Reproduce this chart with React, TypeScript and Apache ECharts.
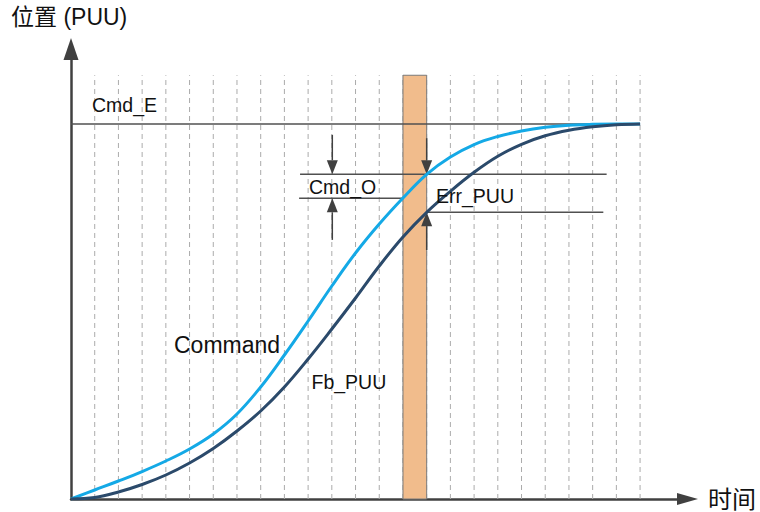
import React, { useEffect, useRef } from "react";
import * as echarts from "echarts";

// ---- data (x in grid units, y in percent of Cmd_E) ----
const timeSteps: number[] = [0, 1, 2, 3, 4, 5, 6, 7, 8, 9, 10, 11, 12, 13, 14, 15, 16, 17, 18, 19, 20, 21, 22, 23, 24];
const commandValues: number[] = [
  0, 2.4, 4.8, 7.33, 10.13, 13.33, 17.33, 22.67, 29.87, 38.4, 47.47, 56.8, 65.6,
  73.33, 80.27, 86.59, 91.2, 94.53, 96.67, 98.13, 99.12, 99.68, 99.92, 100, 100,
];
const feedbackValues: number[] = [
  0, 0.4, 1.87, 3.87, 6.4, 9.6, 13.47, 18.13, 23.47, 29.87, 37.33, 45.33, 53.6,
  62.13, 69.87, 76.45, 82.05, 87.12, 91.39, 94.59, 96.85, 98.32, 99.25, 99.79, 100,
];
const gridXs: number[] = [1, 2, 3, 4, 5, 6, 7, 8, 9, 10, 11, 12, 13, 14, 15, 16, 17, 18, 19, 20, 21, 22, 23, 24];
const gridTop = 113;
const band: number[][] = [[14, 15, 0, 113]];
// [xStart, xEnd, y]
const refLines: number[][] = [
  [0, 24, 100],
  [9.66, 22.59, 86.6],
  [9.62, 14.04, 80.2],
  [15.0, 22.45, 76.5],
];
// [x, yFrom, yTip]
const arrows: number[][] = [
  [11.02, 97.1, 86.6],
  [11.02, 69.1, 80.2],
  [15.0, 96.2, 86.6],
  [15.0, 66.4, 76.5],
];
const xMax = 26;
const yMax = 120;

const FONT = '"Liberation Sans", Arial, "Noto Sans CJK SC", sans-serif';
const AXIS = "#404040";

export default function App() {
  const ref = useRef<HTMLDivElement>(null);
  useEffect(() => {
    if (!ref.current) return;
    const chart = echarts.init(ref.current, undefined, { renderer: "svg" });
    const txt = (text: string, x: number, y: number, size: number) => ({
      type: "text",
      x,
      y,
      style: { text, fill: "#111", font: `${size}px ${FONT}`, verticalAlign: "middle", align: "left" },
      z: 100,
    });
    chart.setOption({
      animation: false,
      grid: { left: 71, right: 72.5, top: 49, bottom: 13 },
      xAxis: {
        type: "value",
        min: 0,
        max: xMax,
        axisLine: { show: true, symbol: ["none", "triangle"], symbolSize: [12, 21], lineStyle: { color: AXIS, width: 2.5 } },
        axisTick: { show: false },
        axisLabel: { show: false },
        splitLine: { show: false },
      },
      yAxis: {
        type: "value",
        min: 0,
        max: yMax,
        axisLine: { show: true, symbol: ["none", "triangle"], symbolSize: [15, 22], lineStyle: { color: AXIS, width: 2.5 } },
        axisTick: { show: false },
        axisLabel: { show: false },
        splitLine: { show: false },
      },
      series: [
        {
          type: "custom",
          name: "grid",
          data: gridXs.map((x) => [x, 0]),
          renderItem: (_p: any, api: any) => {
            const x = api.value(0);
            const a = api.coord([x, 0]);
            const b = api.coord([x, gridTop]);
            return {
              type: "line",
              shape: { x1: a[0], y1: a[1], x2: b[0], y2: b[1] },
              style: { stroke: "#ababab", lineWidth: 1, lineDash: [5, 4] },
            };
          },
        },
        {
          type: "custom",
          name: "band",
          data: band,
          renderItem: (_p: any, api: any) => {
            const a = api.coord([api.value(0), api.value(3)]);
            const b = api.coord([api.value(1), api.value(2)]);
            return {
              type: "rect",
              shape: { x: a[0], y: a[1], width: b[0] - a[0], height: b[1] - a[1] },
              style: { fill: "#F1BC8C", stroke: "#7a7a7a", lineWidth: 1 },
            };
          },
        },
        {
          type: "custom",
          name: "refs",
          data: refLines,
          renderItem: (_p: any, api: any) => {
            const a = api.coord([api.value(0), api.value(2)]);
            const b = api.coord([api.value(1), api.value(2)]);
            return {
              type: "line",
              shape: { x1: a[0], y1: a[1], x2: b[0], y2: b[1] },
              style: { stroke: "#505050", lineWidth: 1.5 },
            };
          },
        },
        {
          type: "line",
          name: "Command",
          data: timeSteps.map((t, i) => [t, commandValues[i]]),
          smooth: 0.4,
          showSymbol: false,
          lineStyle: { color: "#14A9E6", width: 3 },
        },
        {
          type: "line",
          name: "Fb_PUU",
          data: timeSteps.map((t, i) => [t, feedbackValues[i]]),
          smooth: 0.4,
          showSymbol: false,
          lineStyle: { color: "#2B4A6B", width: 3 },
        },
        {
          type: "custom",
          name: "arrows",
          data: arrows,
          renderItem: (_p: any, api: any) => {
            const from = api.coord([api.value(0), api.value(1)]);
            const tip = api.coord([api.value(0), api.value(2)]);
            const dir = tip[1] > from[1] ? 1 : -1;
            const head = 14;
            const hw = 5.5;
            const baseY = tip[1] - dir * head;
            return {
              type: "group",
              children: [
                {
                  type: "line",
                  shape: { x1: from[0], y1: from[1], x2: tip[0], y2: baseY },
                  style: { stroke: AXIS, lineWidth: 1.5 },
                },
                {
                  type: "polygon",
                  shape: { points: [[tip[0], tip[1]], [tip[0] - hw, baseY], [tip[0] + hw, baseY]] },
                  style: { fill: AXIS },
                },
              ],
            };
          },
        },
      ],
      graphic: [
        txt("位置 (PUU)", 11, 17, 23),
        txt("时间", 708, 499, 24),
        txt("Cmd_E", 92, 105, 19.5),
        txt("Cmd_O", 309, 186.5, 19.5),
        txt("Err_PUU", 436, 196, 19.5),
        txt("Fb_PUU", 311.5, 382, 19.5),
        txt("Command", 174, 345, 23),
      ],
    });
    return () => chart.dispose();
  }, []);
  return <div ref={ref} style={{ width: 760, height: 512, position: "absolute", left: 0, top: 0 }} />;
}
